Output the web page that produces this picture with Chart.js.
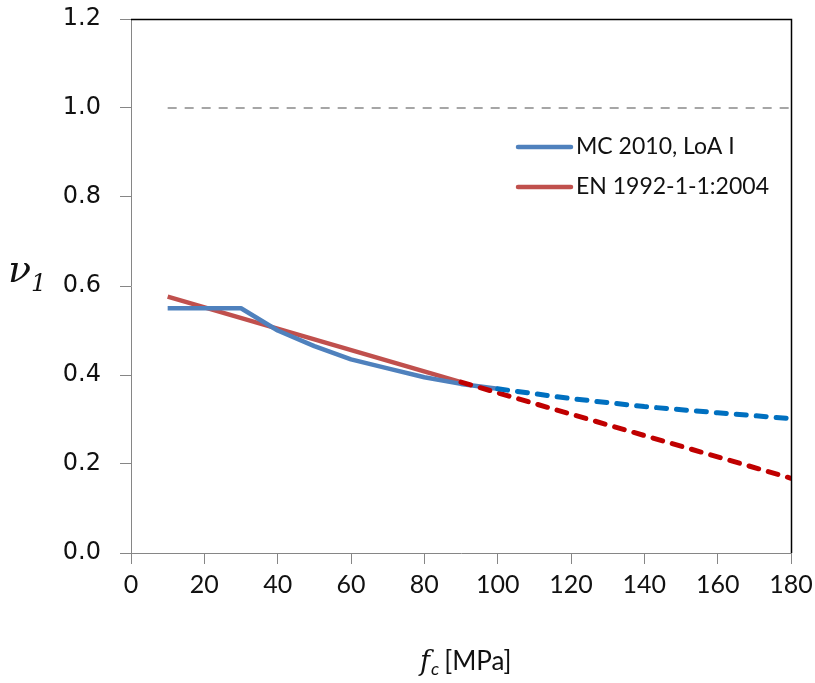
<!DOCTYPE html>
<html><head><meta charset="utf-8">
<script src="https://cdn.jsdelivr.net/npm/chart.js@4/dist/chart.umd.min.js"></script>
<style>html,body{margin:0;padding:0;background:#fff}#wrap{width:815px;height:683px;position:relative}</style>
</head><body><div id="wrap"><canvas id="c"></canvas></div>
<script>
// Data
const fcMC = [10, 20, 30, 40, 50, 60, 70, 80, 90, 100];
const nuMC = [0.55, 0.55, 0.55, 0.50, 0.465, 0.435, 0.415, 0.395, 0.380, 0.369];
const fcMCext = [100, 120, 140, 160, 180];
const nuMCext = [0.369, 0.347, 0.329, 0.315, 0.302];
const fcEN = [10, 90];
const nuEN = [0.576, 0.384];
const fcENext = [90, 180];
const nuENext = [0.384, 0.168];
const fcRef = [10, 180];
const nuRef = [1.0, 1.0];
const xTicks = [0, 20, 40, 60, 80, 100, 120, 140, 160, 180];
const yTicks = [0.0, 0.2, 0.4, 0.6, 0.8, 1.0, 1.2];
const legendLabels = ['MC 2010, LoA I', 'EN 1992-1-1:2004'];

const pts = (xs, ys) => xs.map((x, i) => ({x, y: ys[i]}));
const BLUE = '#4F81BD', RED = '#C0504D', BLUE2 = '#0070C0', RED2 = '#C00000';

const overlay = {
  id: 'overlay',
  afterDraw(chart) {
    const {ctx, chartArea: a} = chart;
    ctx.save();
    // top and right frame
    ctx.strokeStyle = '#000'; ctx.lineWidth = 1.5;
    ctx.beginPath();
    ctx.moveTo(a.left, a.top + 0.5); ctx.lineTo(a.right + 0.5, a.top + 0.5); ctx.lineTo(a.right + 0.5, a.bottom);
    ctx.stroke();
    // legend
    const lx = 518, ly = [147, 187];
    [BLUE, RED].forEach((c, i) => {
      ctx.strokeStyle = c; ctx.lineWidth = 4.5; ctx.lineCap = 'round';
      ctx.beginPath(); ctx.moveTo(lx, ly[i]); ctx.lineTo(lx + 53, ly[i]); ctx.stroke();
      ctx.fillStyle = '#111'; ctx.font = '23px Lato'; ctx.textBaseline = 'middle'; ctx.textAlign = 'left';
      ctx.fillText(legendLabels[i], lx + 58, ly[i]);
    });
    // x title: f_c [MPa]
    ctx.fillStyle = '#111'; ctx.textBaseline = 'alphabetic';
    let x = 420, y = 670;
    ctx.font = 'italic 27px "DejaVu Serif"';
    ctx.fillText('f', x, y); x += ctx.measureText('f').width + 1;
    ctx.font = 'italic 18px Lato';
    ctx.fillText('c', x, y + 5); x += ctx.measureText('c').width + 5;
    ctx.font = '26px Lato';
    ctx.fillText('[MPa]', x, y);
    // y title: nu_1
    ctx.font = 'italic 38px "DejaVu Serif"';
    ctx.fillText('\u03BD', 8, 282);
    ctx.font = 'italic 24px "DejaVu Serif"';
    ctx.fillText('1', 31, 291);
    ctx.restore();
  }
};

new Chart(document.getElementById('c'), {
  type: 'scatter',
  data: {
    datasets: [
      {data: pts(fcRef, nuRef), showLine: true, borderColor: '#A6A6A6', borderWidth: 2, borderDash: [9, 8], pointRadius: 0, tension: 0},
      {data: pts(fcMCext, nuMCext), showLine: true, borderColor: BLUE2, borderWidth: 5, borderDash: [10, 10], borderCapStyle: 'round', pointRadius: 0},
      {data: pts(fcENext, nuENext), showLine: true, borderColor: RED2, borderWidth: 5, borderDash: [10, 10], borderCapStyle: 'round', pointRadius: 0},
      {data: pts(fcMC, nuMC), showLine: true, borderColor: BLUE, borderWidth: 4.5, pointRadius: 0, borderJoinStyle: 'round'},
      {data: pts(fcEN, nuEN), showLine: true, borderColor: RED, borderWidth: 4.5, pointRadius: 0}
    ]
  },
  options: {
    responsive: true, maintainAspectRatio: false, animation: false,
    layout: {padding: {top: 19, right: 24, left: 0, bottom: 0}},
    plugins: {legend: {display: false}, tooltip: {enabled: false}},
    scales: {
      x: {
        type: 'linear', min: 0, max: 180,
        afterBuildTicks: s => { s.ticks = xTicks.map(v => ({value: v})); },
        afterFit: s => { s.height = 130; s.paddingLeft = 0; s.paddingRight = 0; },
        grid: {display: true, drawOnChartArea: false, drawTicks: true, tickLength: 11, color: '#868686', lineWidth: 1},
        border: {color: '#868686', width: 1},
        ticks: {color: '#111', font: {family: 'Lato', size: 25}, padding: 6, maxRotation: 0, autoSkip: false, callback: v => String(v)}
      },
      y: {
        min: 0, max: 1.2,
        afterBuildTicks: s => { s.ticks = yTicks.map(v => ({value: v})); },
        afterFit: s => { s.width = 131; s.paddingTop = 0; s.paddingBottom = 0; },
        grid: {display: true, drawOnChartArea: false, drawTicks: true, tickLength: 11, color: '#868686', lineWidth: 1},
        border: {color: '#868686', width: 1},
        ticks: {color: '#111', font: {family: 'DejaVu Sans', size: 24}, padding: 19, autoSkip: false, callback: v => Number(v).toFixed(1)}
      }
    }
  },
  plugins: [overlay]
});
</script></body></html>
